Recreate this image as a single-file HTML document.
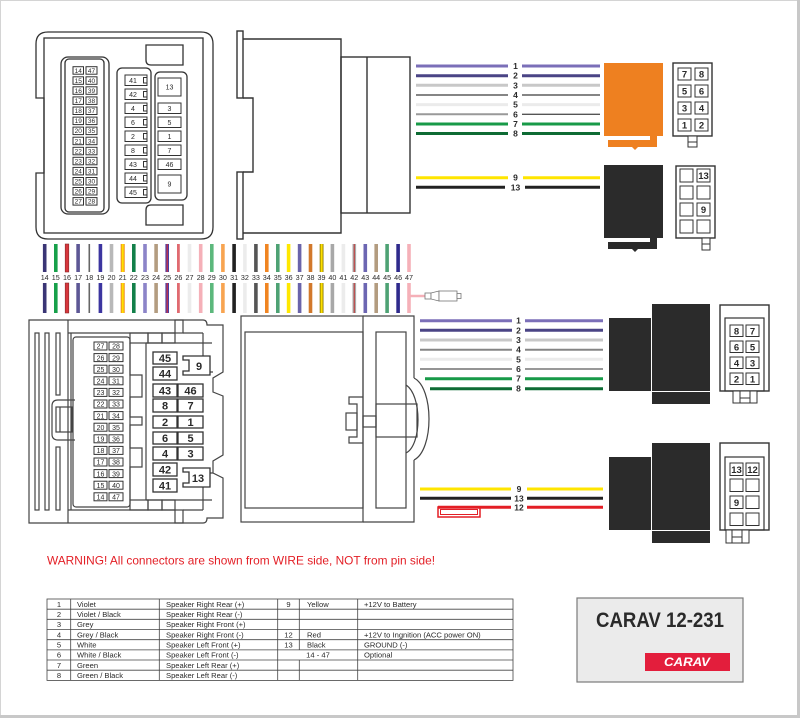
<!DOCTYPE html>
<html><head><meta charset="utf-8"><style>
html,body{margin:0;padding:0;background:#fff;}
svg{display:block;}
text{font-family:"Liberation Sans",Arial,sans-serif;fill:#2a2a2a;}
.s{fill:none;stroke:#333;stroke-width:1.3;}
.p{fill:#fff;stroke:#333;stroke-width:1;}
.t6{font-size:6.5px;text-anchor:middle;}
.t7{font-size:7px;text-anchor:middle;}
.tb{font-size:8.5px;font-weight:bold;text-anchor:middle;}
.big{font-size:11px;font-weight:bold;text-anchor:middle;}
.pd{font-size:9.5px;font-weight:bold;text-anchor:middle;}
.tt{font-size:7.6px;}
</style></head><body>
<svg width="800" height="718" viewBox="0 0 800 718" xmlns="http://www.w3.org/2000/svg">
<rect x="0" y="0" width="800" height="718" fill="#fff"/>
<rect x="0.5" y="0.5" width="797" height="715" fill="none" stroke="#d4d4d4" stroke-width="1"/>
<rect x="797" y="0" width="3" height="718" fill="#c8c8c8"/>
<rect x="0" y="715" width="800" height="3" fill="#c8c8c8"/>

<!-- ============ TOP-LEFT CONNECTOR ============ -->
<g class="s">
<path d="M48,32 H201 Q213,32 213,44 V227 Q213,239 201,239 H48 Q36,239 36,227 V173 H44 V98 H36 V44 Q36,32 48,32 Z"/>
<rect x="44" y="38" width="159" height="195"/>
<rect x="61" y="57" width="48" height="157" rx="7"/>
<rect x="65" y="59" width="39" height="153" rx="4"/>
<rect x="117" y="68" width="34" height="135" rx="5"/>
<rect x="155" y="72" width="32" height="128" rx="5"/>
<path d="M146,45 H183 V65 H151 Q146,65 146,60 Z"/>
<path d="M151,205 H183 V225 H146 V210 Q146,205 151,205 Z"/>
</g>
<g>
<rect class="p" x="73" y="66.7" width="10.5" height="7.5"/><rect class="p" x="86" y="66.7" width="11" height="7.5"/>
<rect class="p" x="73" y="76.8" width="10.5" height="7.5"/><rect class="p" x="86" y="76.8" width="11" height="7.5"/>
<rect class="p" x="73" y="86.8" width="10.5" height="7.5"/><rect class="p" x="86" y="86.8" width="11" height="7.5"/>
<rect class="p" x="73" y="96.9" width="10.5" height="7.5"/><rect class="p" x="86" y="96.9" width="11" height="7.5"/>
<rect class="p" x="73" y="107" width="10.5" height="7.5"/><rect class="p" x="86" y="107" width="11" height="7.5"/>
<rect class="p" x="73" y="117.1" width="10.5" height="7.5"/><rect class="p" x="86" y="117.1" width="11" height="7.5"/>
<rect class="p" x="73" y="127.1" width="10.5" height="7.5"/><rect class="p" x="86" y="127.1" width="11" height="7.5"/>
<rect class="p" x="73" y="137.2" width="10.5" height="7.5"/><rect class="p" x="86" y="137.2" width="11" height="7.5"/>
<rect class="p" x="73" y="147.3" width="10.5" height="7.5"/><rect class="p" x="86" y="147.3" width="11" height="7.5"/>
<rect class="p" x="73" y="157.3" width="10.5" height="7.5"/><rect class="p" x="86" y="157.3" width="11" height="7.5"/>
<rect class="p" x="73" y="167.4" width="10.5" height="7.5"/><rect class="p" x="86" y="167.4" width="11" height="7.5"/>
<rect class="p" x="73" y="177.5" width="10.5" height="7.5"/><rect class="p" x="86" y="177.5" width="11" height="7.5"/>
<rect class="p" x="73" y="187.5" width="10.5" height="7.5"/><rect class="p" x="86" y="187.5" width="11" height="7.5"/>
<rect class="p" x="73" y="197.6" width="10.5" height="7.5"/><rect class="p" x="86" y="197.6" width="11" height="7.5"/>
</g>
<g class="t6">
<text x="78.2" y="72.8">14</text><text x="91.5" y="72.8">47</text>
<text x="78.2" y="82.9">15</text><text x="91.5" y="82.9">40</text>
<text x="78.2" y="92.9">16</text><text x="91.5" y="92.9">39</text>
<text x="78.2" y="103">17</text><text x="91.5" y="103">38</text>
<text x="78.2" y="113.1">18</text><text x="91.5" y="113.1">37</text>
<text x="78.2" y="123.2">19</text><text x="91.5" y="123.2">36</text>
<text x="78.2" y="133.2">20</text><text x="91.5" y="133.2">35</text>
<text x="78.2" y="143.3">21</text><text x="91.5" y="143.3">34</text>
<text x="78.2" y="153.4">22</text><text x="91.5" y="153.4">33</text>
<text x="78.2" y="163.4">23</text><text x="91.5" y="163.4">32</text>
<text x="78.2" y="173.5">24</text><text x="91.5" y="173.5">31</text>
<text x="78.2" y="183.6">25</text><text x="91.5" y="183.6">30</text>
<text x="78.2" y="193.6">26</text><text x="91.5" y="193.6">29</text>
<text x="78.2" y="203.7">27</text><text x="91.5" y="203.7">28</text>
</g>
<!-- middle column pins -->
<g>
<rect class="p" x="125" y="75" width="22" height="10.5"/><path class="s" style="stroke-width:1" d="M147,77.5 H143.5 V83 H147"/>
<rect class="p" x="125" y="89" width="22" height="10.5"/><path class="s" style="stroke-width:1" d="M147,91.5 H143.5 V97 H147"/>
<rect class="p" x="125" y="103" width="22" height="10.5"/><path class="s" style="stroke-width:1" d="M147,105.5 H143.5 V111 H147"/>
<rect class="p" x="125" y="117" width="22" height="10.5"/><path class="s" style="stroke-width:1" d="M147,119.5 H143.5 V125 H147"/>
<rect class="p" x="125" y="131" width="22" height="10.5"/><path class="s" style="stroke-width:1" d="M147,133.5 H143.5 V139 H147"/>
<rect class="p" x="125" y="145" width="22" height="10.5"/><path class="s" style="stroke-width:1" d="M147,147.5 H143.5 V153 H147"/>
<rect class="p" x="125" y="159" width="22" height="10.5"/><path class="s" style="stroke-width:1" d="M147,161.5 H143.5 V167 H147"/>
<rect class="p" x="125" y="173" width="22" height="10.5"/><path class="s" style="stroke-width:1" d="M147,175.5 H143.5 V181 H147"/>
<rect class="p" x="125" y="187" width="22" height="10.5"/><path class="s" style="stroke-width:1" d="M147,189.5 H143.5 V195 H147"/>
</g>
<g class="t7">
<text x="133" y="83">41</text><text x="133" y="97">42</text><text x="133" y="111">4</text>
<text x="133" y="125">6</text><text x="133" y="139">2</text><text x="133" y="153">8</text>
<text x="133" y="167">43</text><text x="133" y="181">44</text><text x="133" y="195">45</text>
</g>
<g>
<rect class="p" x="158" y="78" width="23" height="18"/>
<rect class="p" x="158" y="103" width="23" height="10.5"/>
<rect class="p" x="158" y="117" width="23" height="10.5"/>
<rect class="p" x="158" y="131" width="23" height="10.5"/>
<rect class="p" x="158" y="145" width="23" height="10.5"/>
<rect class="p" x="158" y="159" width="23" height="10.5"/>
<rect class="p" x="158" y="175" width="23" height="18"/>
</g>
<g class="t7">
<text x="169.5" y="89.5">13</text><text x="169.5" y="111">3</text><text x="169.5" y="125">5</text>
<text x="169.5" y="139">1</text><text x="169.5" y="153">7</text><text x="169.5" y="167">46</text>
<text x="169.5" y="186.5">9</text>
</g>

<!-- ============ TOP MIDDLE CONNECTOR ============ -->
<g class="s" style="stroke-width:1.4">
<rect x="237" y="31" width="6" height="67"/>
<rect x="237" y="172" width="6" height="67"/>
<polyline points="243,98 253,98 253,172 243,172"/>
<polyline points="243,39 341,39 341,233 243,233"/>
<rect x="341" y="57" width="69" height="156"/>
<line x1="367" y1="57" x2="367" y2="213"/>
</g>

<!-- ============ TOP WIRES ============ -->
<g stroke-linecap="butt">
<line x1="416" y1="66" x2="508" y2="66" stroke="#7b6fb8" stroke-width="3"/><line x1="522" y1="66" x2="600" y2="66" stroke="#7b6fb8" stroke-width="3"/>
<line x1="416" y1="75.7" x2="508" y2="75.7" stroke="#4a4485" stroke-width="3"/><line x1="522" y1="75.7" x2="600" y2="75.7" stroke="#4a4485" stroke-width="3"/>
<line x1="416" y1="85.3" x2="508" y2="85.3" stroke="#c8c8c8" stroke-width="3"/><line x1="522" y1="85.3" x2="600" y2="85.3" stroke="#c8c8c8" stroke-width="3"/>
<line x1="416" y1="95" x2="508" y2="95" stroke="#858585" stroke-width="2"/><line x1="522" y1="95" x2="600" y2="95" stroke="#858585" stroke-width="2"/>
<line x1="416" y1="104.6" x2="508" y2="104.6" stroke="#ebebeb" stroke-width="3"/><line x1="522" y1="104.6" x2="600" y2="104.6" stroke="#ebebeb" stroke-width="3"/>
<line x1="416" y1="114.3" x2="508" y2="114.3" stroke="#999" stroke-width="2"/><line x1="522" y1="114.3" x2="600" y2="114.3" stroke="#555" stroke-width="1.3"/>
<line x1="416" y1="124" x2="508" y2="124" stroke="#189a48" stroke-width="3"/><line x1="522" y1="124" x2="600" y2="124" stroke="#189a48" stroke-width="3"/>
<line x1="416" y1="133.5" x2="508" y2="133.5" stroke="#0e6b34" stroke-width="3"/><line x1="522" y1="133.5" x2="600" y2="133.5" stroke="#0e6b34" stroke-width="3"/>
<line x1="416" y1="177.7" x2="508" y2="177.7" stroke="#ffe500" stroke-width="3"/><line x1="523" y1="177.7" x2="600" y2="177.7" stroke="#ffe500" stroke-width="3"/>
<line x1="416" y1="187.3" x2="505" y2="187.3" stroke="#222" stroke-width="3"/><line x1="525" y1="187.3" x2="600" y2="187.3" stroke="#222" stroke-width="3"/>
</g>
<g class="tb">
<text x="515.5" y="69">1</text><text x="515.5" y="78.7">2</text><text x="515.5" y="88.3">3</text>
<text x="515.5" y="98">4</text><text x="515.5" y="107.6">5</text><text x="515.5" y="117.3">6</text>
<text x="515.5" y="127">7</text><text x="515.5" y="136.5">8</text>
<text x="515.5" y="180.7">9</text><text x="515.5" y="190.5">13</text>
</g>

<!-- orange connector -->
<rect x="604" y="63" width="59" height="73" fill="#ee8020"/>
<path d="M608,140 H650 V136 H657 V147 H638 L635,150 L632,147 H608 Z" fill="#ee8020"/>
<!-- black connector top -->
<rect x="604" y="165" width="59" height="73" fill="#2b2b2b"/>
<path d="M608,242 H650 V238 H657 V249 H638 L635,252 L632,249 H608 Z" fill="#2b2b2b"/>

<!-- orange pin diagram -->
<g>
<rect x="673" y="63" width="39" height="73" fill="#fff" stroke="#333" stroke-width="1.4"/>
<rect class="p" x="678" y="68" width="13" height="12"/><rect class="p" x="695" y="68" width="13" height="12"/>
<rect class="p" x="678" y="85" width="13" height="12"/><rect class="p" x="695" y="85" width="13" height="12"/>
<rect class="p" x="678" y="102" width="13" height="12"/><rect class="p" x="695" y="102" width="13" height="12"/>
<rect class="p" x="678" y="119" width="13" height="12"/><rect class="p" x="695" y="119" width="13" height="12"/>
<rect class="p" x="688" y="136" width="9" height="11"/><line x1="688" y1="142" x2="697" y2="142" stroke="#333"/>
</g>
<g class="pd">
<text x="684.5" y="77.5">7</text><text x="701.5" y="77.5">8</text>
<text x="684.5" y="94.5">5</text><text x="701.5" y="94.5">6</text>
<text x="684.5" y="111.5">3</text><text x="701.5" y="111.5">4</text>
<text x="684.5" y="128.5">1</text><text x="701.5" y="128.5">2</text>
</g>
<!-- black top pin diagram -->
<g>
<rect x="676" y="166" width="39" height="72" fill="#fff" stroke="#333" stroke-width="1.4"/>
<rect class="p" x="680" y="169" width="13" height="13"/><rect class="p" x="697" y="169" width="13" height="13"/>
<rect class="p" x="680" y="186" width="13" height="13"/><rect class="p" x="697" y="186" width="13" height="13"/>
<rect class="p" x="680" y="203" width="13" height="13"/><rect class="p" x="697" y="203" width="13" height="13"/>
<rect class="p" x="680" y="220" width="13" height="13"/><rect class="p" x="697" y="220" width="13" height="13"/>
<rect class="p" x="702" y="238" width="8" height="12"/><line x1="702" y1="244" x2="710" y2="244" stroke="#333"/>
</g>
<g class="pd"><text x="703.5" y="179">13</text><text x="703.5" y="213">9</text></g>

<!-- ============ WIRE ROW 14-47 ============ -->
<g>
<rect x="42.9" y="244" width="3.6" height="28" fill="#3a3575"/><rect x="42.9" y="283" width="3.6" height="30" fill="#3a3575"/>
<rect x="54" y="244" width="3.6" height="28" fill="#17a04a"/><rect x="54" y="283" width="3.6" height="30" fill="#17a04a"/>
<rect x="65.2" y="244" width="3.6" height="28" fill="#d7373d" stroke="#8a2a2a" stroke-width="0.6"/><rect x="65.2" y="283" width="3.6" height="30" fill="#d7373d" stroke="#8a2a2a" stroke-width="0.6"/>
<rect x="76.3" y="244" width="3.6" height="28" fill="#5d5795"/><rect x="76.3" y="283" width="3.6" height="30" fill="#5d5795"/>
<rect x="88.5" y="244" width="1.6" height="28" fill="#666"/><rect x="88.5" y="283" width="1.6" height="30" fill="#666"/>
<rect x="98.6" y="244" width="3.6" height="28" fill="#3c35a0"/><rect x="98.6" y="283" width="3.6" height="30" fill="#3c35a0"/>
<rect x="109.7" y="244" width="3.6" height="28" fill="#b8b8b8"/><rect x="109.7" y="283" width="3.6" height="30" fill="#b8b8b8"/>
<rect x="120.7" y="244" width="4" height="28" fill="#f08a20"/><rect x="121.7" y="244" width="2" height="28" fill="#ffe000"/>
<rect x="120.7" y="283" width="4" height="30" fill="#f08a20"/><rect x="121.7" y="283" width="2" height="30" fill="#ffe000"/>
<rect x="132" y="244" width="3.6" height="28" fill="#13804a"/><rect x="132" y="283" width="3.6" height="30" fill="#13804a"/>
<rect x="143.2" y="244" width="3.6" height="28" fill="#8c84c8"/><rect x="143.2" y="283" width="3.6" height="30" fill="#8c84c8"/>
<rect x="154.3" y="244" width="3.6" height="28" fill="#b39c80"/><rect x="154.3" y="283" width="3.6" height="30" fill="#b39c80"/>
<rect x="165.4" y="244" width="3.6" height="28" fill="#4a3fa5"/><rect x="166.6" y="244" width="1.2" height="28" fill="#d03040"/>
<rect x="165.4" y="283" width="3.6" height="30" fill="#4a3fa5"/><rect x="166.6" y="283" width="1.2" height="30" fill="#d03040"/>
<rect x="177" y="244" width="2.8" height="28" fill="#e06a70"/><rect x="177" y="283" width="2.8" height="30" fill="#e06a70"/>
<rect x="187.7" y="244" width="3.6" height="28" fill="#ececec"/><rect x="187.7" y="283" width="3.6" height="30" fill="#ececec"/>
<rect x="198.9" y="244" width="3.6" height="28" fill="#f5b0b8"/><rect x="198.9" y="283" width="3.6" height="30" fill="#f5b0b8"/>
<rect x="210" y="244" width="3.6" height="28" fill="#5cb87c"/><rect x="210" y="283" width="3.6" height="30" fill="#5cb87c"/>
<rect x="221.1" y="244" width="3.6" height="28" fill="#f8a450"/><rect x="221.1" y="283" width="3.6" height="30" fill="#f8a450"/>
<rect x="232.3" y="244" width="3.6" height="28" fill="#222"/><rect x="232.3" y="283" width="3.6" height="30" fill="#222"/>
<rect x="243.1" y="244" width="3.6" height="28" fill="#ececec"/><rect x="243.1" y="283" width="3.6" height="30" fill="#ececec"/>
<rect x="254.1" y="244" width="3.6" height="28" fill="#555"/><rect x="254.1" y="283" width="3.6" height="30" fill="#555"/>
<rect x="265" y="244" width="3.6" height="28" fill="#f08522"/><rect x="265" y="283" width="3.6" height="30" fill="#f08522"/>
<rect x="276" y="244" width="3.6" height="28" fill="#4ea274"/><rect x="276" y="283" width="3.6" height="30" fill="#4ea274"/>
<rect x="286.8" y="244" width="3.6" height="28" fill="#ffe800"/><rect x="286.8" y="283" width="3.6" height="30" fill="#ffe800"/>
<rect x="297.8" y="244" width="3.6" height="28" fill="#6a64aa"/><rect x="297.8" y="283" width="3.6" height="30" fill="#6a64aa"/>
<rect x="308.7" y="244" width="3.6" height="28" fill="#d2792b"/><rect x="308.7" y="283" width="3.6" height="30" fill="#d2792b"/>
<rect x="319.7" y="244" width="3.8" height="28" fill="#8a7a00"/><rect x="320.6" y="244" width="2" height="28" fill="#ffe000"/>
<rect x="319.7" y="283" width="3.8" height="30" fill="#8a7a00"/><rect x="320.6" y="283" width="2" height="30" fill="#ffe000"/>
<rect x="330.6" y="244" width="3.6" height="28" fill="#a8a8a8"/><rect x="330.6" y="283" width="3.6" height="30" fill="#a8a8a8"/>
<rect x="341.6" y="244" width="3.6" height="28" fill="#ececec"/><rect x="341.6" y="283" width="3.6" height="30" fill="#ececec"/>
<rect x="352.5" y="244" width="3.6" height="28" fill="#aaa"/><rect x="353.7" y="244" width="1.2" height="28" fill="#c04848"/>
<rect x="352.5" y="283" width="3.6" height="30" fill="#aaa"/><rect x="353.7" y="283" width="1.2" height="30" fill="#c04848"/>
<rect x="363.5" y="244" width="3.6" height="28" fill="#6c66b2"/><rect x="363.5" y="283" width="3.6" height="30" fill="#6c66b2"/>
<rect x="374.4" y="244" width="3.6" height="28" fill="#b39c80"/><rect x="374.4" y="283" width="3.6" height="30" fill="#b39c80"/>
<rect x="385.3" y="244" width="3.6" height="28" fill="#4ea274"/><rect x="385.3" y="283" width="3.6" height="30" fill="#4ea274"/>
<rect x="396.3" y="244" width="3.6" height="28" fill="#2f2a8c"/><rect x="396.3" y="283" width="3.6" height="30" fill="#2f2a8c"/>
<rect x="407.2" y="244" width="3.6" height="28" fill="#f5b0b8"/><rect x="407.2" y="283" width="3.6" height="30" fill="#f5b0b8"/>
<line x1="409" y1="296" x2="425" y2="296" stroke="#f5b0b8" stroke-width="2.5"/>
<g fill="#fff" stroke="#777" stroke-width="0.8">
<rect x="425" y="293" width="6" height="6"/>
<path d="M431,293 L439,291 V301 L431,299 Z"/>
<rect x="439" y="291" width="18" height="10"/>
<rect x="457" y="293.5" width="4" height="5"/>
</g>
</g>
<g class="t7" style="font-size:7.2px">
<text x="44.7" y="280">14</text><text x="55.8" y="280">15</text><text x="67" y="280">16</text><text x="78.1" y="280">17</text>
<text x="89.3" y="280">18</text><text x="100.4" y="280">19</text><text x="111.5" y="280">20</text><text x="122.7" y="280">21</text>
<text x="133.8" y="280">22</text><text x="145" y="280">23</text><text x="156.1" y="280">24</text><text x="167.2" y="280">25</text>
<text x="178.4" y="280">26</text><text x="189.5" y="280">27</text><text x="200.7" y="280">28</text><text x="211.8" y="280">29</text>
<text x="222.9" y="280">30</text><text x="234.1" y="280">31</text><text x="244.9" y="280">32</text><text x="255.9" y="280">33</text>
<text x="266.8" y="280">34</text><text x="277.8" y="280">35</text><text x="288.6" y="280">36</text><text x="299.6" y="280">37</text>
<text x="310.5" y="280">38</text><text x="321.5" y="280">39</text><text x="332.4" y="280">40</text><text x="343.4" y="280">41</text>
<text x="354.3" y="280">42</text><text x="365.3" y="280">43</text><text x="376.2" y="280">44</text><text x="387.1" y="280">45</text>
<text x="398.1" y="280">46</text><text x="409" y="280">47</text>
</g>

<!-- ============ BOTTOM-LEFT CONNECTOR ============ -->
<g class="s" style="stroke:#444;stroke-width:1.2">
<path d="M68,320 H29 V523 H68"/>
<line x1="68" y1="320" x2="68" y2="523"/>
<line x1="71" y1="333" x2="71" y2="510"/>
<line x1="68" y1="320" x2="203" y2="320"/>
<line x1="68" y1="523" x2="203" y2="523"/>
<line x1="68" y1="333" x2="175" y2="333"/>
<line x1="68" y1="510" x2="175" y2="510"/>
<rect x="175" y="320" width="8" height="13"/>
<rect x="175" y="510" width="8" height="13"/>
<line x1="183" y1="333" x2="203" y2="333"/>
<line x1="183" y1="510" x2="203" y2="510"/>
<path d="M203,320 Q207,320 207,325 H223 V372 L213,378 V392 L223,396 V455 L213,461 V473 L223,478 V518 H207 Q207,523 203,523"/>
<path d="M203,333 V343 H212"/>
<path d="M203,510 V500 H212"/>
<rect x="35" y="333" width="4" height="177"/>
<rect x="45" y="333" width="4" height="177"/>
<rect x="56" y="333" width="4" height="62"/>
<rect x="56" y="447" width="4" height="63"/>
<path d="M75,400 H58 Q52,400 52,406 V434 Q52,440 58,440 H75"/>
<rect x="56" y="407" width="16" height="25"/>
<line x1="60" y1="407" x2="60" y2="432"/>
<rect x="73" y="337" width="57" height="170" rx="3"/>
<rect x="130" y="333" width="18" height="10"/>
<rect x="148" y="333" width="14" height="10"/>
<rect x="162" y="333" width="13" height="10"/>
<rect x="130" y="500" width="18" height="10"/>
<rect x="148" y="500" width="14" height="10"/>
<rect x="162" y="500" width="13" height="10"/>
<polyline points="130,343 130,375 142,375 142,397 130,397 130,417 142,417 142,425 130,425 130,448 142,448 142,467 130,467 130,500"/>
<polyline points="146,343 146,500"/>
<line x1="146" y1="343" x2="203" y2="343"/>
<line x1="146" y1="500" x2="203" y2="500"/>
<path d="M203,343 V372 H213"/>
<path d="M203,500 V473 H213"/>
</g>
<g>
<rect class="p" x="94" y="342" width="13" height="8"/><rect class="p" x="109" y="342" width="14" height="8"/>
<rect class="p" x="94" y="353.6" width="13" height="8"/><rect class="p" x="109" y="353.6" width="14" height="8"/>
<rect class="p" x="94" y="365.2" width="13" height="8"/><rect class="p" x="109" y="365.2" width="14" height="8"/>
<rect class="p" x="94" y="376.8" width="13" height="8"/><rect class="p" x="109" y="376.8" width="14" height="8"/>
<rect class="p" x="94" y="388.4" width="13" height="8"/><rect class="p" x="109" y="388.4" width="14" height="8"/>
<rect class="p" x="94" y="400" width="13" height="8"/><rect class="p" x="109" y="400" width="14" height="8"/>
<rect class="p" x="94" y="411.6" width="13" height="8"/><rect class="p" x="109" y="411.6" width="14" height="8"/>
<rect class="p" x="94" y="423.2" width="13" height="8"/><rect class="p" x="109" y="423.2" width="14" height="8"/>
<rect class="p" x="94" y="434.8" width="13" height="8"/><rect class="p" x="109" y="434.8" width="14" height="8"/>
<rect class="p" x="94" y="446.4" width="13" height="8"/><rect class="p" x="109" y="446.4" width="14" height="8"/>
<rect class="p" x="94" y="458" width="13" height="8"/><rect class="p" x="109" y="458" width="14" height="8"/>
<rect class="p" x="94" y="469.6" width="13" height="8"/><rect class="p" x="109" y="469.6" width="14" height="8"/>
<rect class="p" x="94" y="481.2" width="13" height="8"/><rect class="p" x="109" y="481.2" width="14" height="8"/>
<rect class="p" x="94" y="492.8" width="13" height="8"/><rect class="p" x="109" y="492.8" width="14" height="8"/>
</g>
<g class="t6" style="font-size:7px">
<text x="100.5" y="348.7">27</text><text x="116" y="348.7">28</text>
<text x="100.5" y="360.3">26</text><text x="116" y="360.3">29</text>
<text x="100.5" y="371.9">25</text><text x="116" y="371.9">30</text>
<text x="100.5" y="383.5">24</text><text x="116" y="383.5">31</text>
<text x="100.5" y="395.1">23</text><text x="116" y="395.1">32</text>
<text x="100.5" y="406.7">22</text><text x="116" y="406.7">33</text>
<text x="100.5" y="418.3">21</text><text x="116" y="418.3">34</text>
<text x="100.5" y="429.9">20</text><text x="116" y="429.9">35</text>
<text x="100.5" y="441.5">19</text><text x="116" y="441.5">36</text>
<text x="100.5" y="453.1">18</text><text x="116" y="453.1">37</text>
<text x="100.5" y="464.7">17</text><text x="116" y="464.7">38</text>
<text x="100.5" y="476.3">16</text><text x="116" y="476.3">39</text>
<text x="100.5" y="487.9">15</text><text x="116" y="487.9">40</text>
<text x="100.5" y="499.5">14</text><text x="116" y="499.5">47</text>
</g>
<g>
<rect class="p" style="stroke-width:1.3" x="153" y="352" width="24" height="12"/>
<rect class="p" style="stroke-width:1.3" x="153" y="367" width="24" height="13"/>
<rect class="p" style="stroke-width:1.3" x="153" y="384" width="24" height="13"/><rect class="p" style="stroke-width:1.3" x="178" y="384" width="25" height="13"/>
<rect class="p" style="stroke-width:1.3" x="153" y="399" width="24" height="13"/><rect class="p" style="stroke-width:1.3" x="178" y="399" width="25" height="13"/>
<rect class="p" style="stroke-width:1.3" x="153" y="416" width="24" height="12"/><rect class="p" style="stroke-width:1.3" x="178" y="416" width="25" height="12"/>
<rect class="p" style="stroke-width:1.3" x="153" y="432" width="24" height="12"/><rect class="p" style="stroke-width:1.3" x="178" y="432" width="25" height="12"/>
<rect class="p" style="stroke-width:1.3" x="153" y="447" width="24" height="13"/><rect class="p" style="stroke-width:1.3" x="178" y="447" width="25" height="13"/>
<rect class="p" style="stroke-width:1.3" x="153" y="463" width="24" height="13"/>
<rect class="p" style="stroke-width:1.3" x="153" y="479" width="24" height="13"/>
<path class="p" style="stroke-width:1.3" d="M183,356 H210 V375 H183 V371 H189 V360 H183 Z"/>
<path class="p" style="stroke-width:1.3" d="M183,468 H210 V487 H183 V483 H189 V472 H183 Z"/>
</g>
<g class="big">
<text x="165" y="362">45</text><text x="165" y="377.5">44</text>
<text x="165" y="394.5">43</text><text x="190.5" y="394.5">46</text>
<text x="165" y="409.5">8</text><text x="190.5" y="409.5">7</text>
<text x="165" y="426">2</text><text x="190.5" y="426">1</text>
<text x="165" y="442">6</text><text x="190.5" y="442">5</text>
<text x="165" y="457.5">4</text><text x="190.5" y="457.5">3</text>
<text x="165" y="473.5">42</text><text x="165" y="489.5">41</text>
<text x="199" y="370">9</text><text x="198" y="482">13</text>
</g>

<!-- ============ BOTTOM MIDDLE CONNECTOR ============ -->
<g class="s" style="stroke:#444;stroke-width:1.2">
<rect x="241" y="316" width="122" height="206"/>
<rect x="245" y="332" width="118" height="176"/>
<path d="M363,316 H414 V378"/>
<path d="M414,460 V522 H363"/>
<path d="M414,378 C434,388 434,450 414,460"/>
<path d="M406,385 C422,395 422,445 406,453"/>
<rect x="376" y="332" width="30" height="176"/>
<rect x="376" y="404" width="41" height="33"/>
<rect x="363" y="416" width="13" height="11"/>
<polyline points="363,397 349,397 349,404 357,404 357,437 349,437 349,443 363,443"/>
<rect x="346" y="413" width="11" height="17"/>
</g>

<!-- ============ BOTTOM RIGHT WIRES ============ -->
<g>
<line x1="420" y1="320.7" x2="512" y2="320.7" stroke="#7b6fb8" stroke-width="3"/><line x1="525" y1="320.7" x2="603" y2="320.7" stroke="#7b6fb8" stroke-width="3"/>
<line x1="420" y1="330.3" x2="512" y2="330.3" stroke="#4a4485" stroke-width="3"/><line x1="525" y1="330.3" x2="603" y2="330.3" stroke="#4a4485" stroke-width="3"/>
<line x1="420" y1="340" x2="512" y2="340" stroke="#c8c8c8" stroke-width="3"/><line x1="525" y1="340" x2="603" y2="340" stroke="#c8c8c8" stroke-width="3"/>
<line x1="420" y1="349.7" x2="512" y2="349.7" stroke="#858585" stroke-width="2"/><line x1="525" y1="349.7" x2="603" y2="349.7" stroke="#858585" stroke-width="2"/>
<line x1="420" y1="359.3" x2="512" y2="359.3" stroke="#ebebeb" stroke-width="3"/><line x1="525" y1="359.3" x2="603" y2="359.3" stroke="#ebebeb" stroke-width="3"/>
<line x1="420" y1="369" x2="512" y2="369" stroke="#555" stroke-width="1.3"/><line x1="525" y1="369" x2="603" y2="369" stroke="#999" stroke-width="2"/>
<line x1="425" y1="378.7" x2="512" y2="378.7" stroke="#189a48" stroke-width="3"/><line x1="525" y1="378.7" x2="603" y2="378.7" stroke="#189a48" stroke-width="3"/>
<line x1="430" y1="388.7" x2="512" y2="388.7" stroke="#0e6b34" stroke-width="3"/><line x1="525" y1="388.7" x2="603" y2="388.7" stroke="#0e6b34" stroke-width="3"/>
<line x1="420" y1="489" x2="511" y2="489" stroke="#ffe500" stroke-width="3"/><line x1="527" y1="489" x2="603" y2="489" stroke="#ffe500" stroke-width="3"/>
<line x1="420" y1="498.3" x2="511" y2="498.3" stroke="#222" stroke-width="3"/><line x1="527" y1="498.3" x2="603" y2="498.3" stroke="#222" stroke-width="3"/>
<line x1="438" y1="507.3" x2="511" y2="507.3" stroke="#e31e25" stroke-width="3"/><line x1="527" y1="507.3" x2="603" y2="507.3" stroke="#e31e25" stroke-width="3"/>
<rect x="438" y="507" width="42" height="10" fill="none" stroke="#e31e25" stroke-width="1.5"/>
<rect x="440.5" y="509.5" width="37" height="5" fill="none" stroke="#e31e25" stroke-width="1"/>
</g>
<g class="tb">
<text x="518.5" y="323.7">1</text><text x="518.5" y="333.3">2</text><text x="518.5" y="343">3</text>
<text x="518.5" y="352.7">4</text><text x="518.5" y="362.3">5</text><text x="518.5" y="372">6</text>
<text x="518.5" y="381.7">7</text><text x="518.5" y="391.7">8</text>
<text x="519" y="492">9</text><text x="519" y="501.3">13</text><text x="519" y="510.3">12</text>
</g>

<!-- bottom right black connectors -->
<rect x="609" y="318" width="42" height="73" fill="#2b2b2b"/>
<rect x="652" y="304" width="58" height="87" fill="#2b2b2b"/>
<rect x="652" y="392" width="58" height="12" fill="#2b2b2b"/>
<rect x="609" y="457" width="42" height="73" fill="#2b2b2b"/>
<rect x="652" y="443" width="58" height="87" fill="#2b2b2b"/>
<rect x="652" y="531" width="58" height="12" fill="#2b2b2b"/>

<!-- pin diagram 8 -->
<g>
<rect x="720" y="305" width="49" height="86" fill="#fff" stroke="#333" stroke-width="1.4"/>
<rect x="725" y="318" width="39" height="73" fill="none" stroke="#333" stroke-width="1.2"/>
<rect class="p" x="730" y="325" width="13" height="11.5"/><rect class="p" x="746" y="325" width="13" height="11.5"/>
<rect class="p" x="730" y="341" width="13" height="11.5"/><rect class="p" x="746" y="341" width="13" height="11.5"/>
<rect class="p" x="730" y="357" width="13" height="11.5"/><rect class="p" x="746" y="357" width="13" height="11.5"/>
<rect class="p" x="730" y="373" width="13" height="11.5"/><rect class="p" x="746" y="373" width="13" height="11.5"/>
<rect class="p" x="733" y="391" width="24" height="12"/><rect class="p" x="740" y="391" width="10" height="12"/>
<line x1="740" y1="398" x2="750" y2="398" stroke="#333"/>
</g>
<g class="pd">
<text x="736.5" y="334.3">8</text><text x="752.5" y="334.3">7</text>
<text x="736.5" y="350.3">6</text><text x="752.5" y="350.3">5</text>
<text x="736.5" y="366.3">4</text><text x="752.5" y="366.3">3</text>
<text x="736.5" y="382.3">2</text><text x="752.5" y="382.3">1</text>
</g>
<!-- pin diagram power -->
<g>
<rect x="720" y="443" width="49" height="87" fill="#fff" stroke="#333" stroke-width="1.4"/>
<rect x="725" y="457" width="39" height="73" fill="none" stroke="#333" stroke-width="1.2"/>
<rect class="p" x="730" y="463" width="13" height="12.5"/><rect class="p" x="746" y="463" width="13" height="12.5"/>
<rect class="p" x="730" y="479" width="13" height="12.5"/><rect class="p" x="746" y="479" width="13" height="12.5"/>
<rect class="p" x="730" y="496" width="13" height="12.5"/><rect class="p" x="746" y="496" width="13" height="12.5"/>
<rect class="p" x="730" y="513" width="13" height="12.5"/><rect class="p" x="746" y="513" width="13" height="12.5"/>
<rect class="p" x="726" y="530" width="23" height="13"/><rect class="p" x="732" y="530" width="10" height="13"/>
<line x1="732" y1="537" x2="742" y2="537" stroke="#333"/>
</g>
<g class="pd">
<text x="736.5" y="473">13</text><text x="752.5" y="473">12</text>
<text x="736.5" y="506">9</text>
</g>

<!-- warning -->
<text x="47" y="564.5" style="font-size:12px;fill:#e31e25;" textLength="388" lengthAdjust="spacingAndGlyphs">WARNING! All connectors are shown from WIRE side, NOT from pin side!</text>

<!-- ============ TABLE ============ -->
<g stroke="#444" stroke-width="0.8" fill="none">
<rect x="47" y="599" width="466" height="81.4"/>
<line x1="47" y1="609.2" x2="513" y2="609.2"/>
<line x1="47" y1="619.3" x2="513" y2="619.3"/>
<line x1="47" y1="629.5" x2="513" y2="629.5"/>
<line x1="47" y1="639.7" x2="513" y2="639.7"/>
<line x1="47" y1="649.9" x2="513" y2="649.9"/>
<line x1="47" y1="660" x2="513" y2="660"/>
<line x1="47" y1="670.2" x2="513" y2="670.2"/>
<line x1="70.7" y1="599" x2="70.7" y2="680.4"/>
<line x1="159.3" y1="599" x2="159.3" y2="680.4"/>
<line x1="277.7" y1="599" x2="277.7" y2="680.4"/>
<line x1="299.3" y1="599" x2="299.3" y2="649.9"/>
<line x1="299.3" y1="660" x2="299.3" y2="680.4"/>
<line x1="357.7" y1="599" x2="357.7" y2="680.4"/>
</g>
<g class="tt">
<text x="59" y="606.9" text-anchor="middle">1</text><text x="77" y="606.9">Violet</text><text x="166" y="606.9">Speaker Right Rear (+)</text><text x="288.5" y="606.9" text-anchor="middle">9</text><text x="307" y="606.9">Yellow</text><text x="364" y="606.9">+12V to Battery</text>
<text x="59" y="617" text-anchor="middle">2</text><text x="77" y="617">Violet / Black</text><text x="166" y="617">Speaker Right Rear (-)</text>
<text x="59" y="627.2" text-anchor="middle">3</text><text x="77" y="627.2">Grey</text><text x="166" y="627.2">Speaker Right Front (+)</text>
<text x="59" y="637.4" text-anchor="middle">4</text><text x="77" y="637.4">Grey / Black</text><text x="166" y="637.4">Speaker Right Front (-)</text><text x="288.5" y="637.4" text-anchor="middle">12</text><text x="307" y="637.4">Red</text><text x="364" y="637.4">+12V to Ingnition (ACC power ON)</text>
<text x="59" y="647.6" text-anchor="middle">5</text><text x="77" y="647.6">White</text><text x="166" y="647.6">Speaker Left Front (+)</text><text x="288.5" y="647.6" text-anchor="middle">13</text><text x="307" y="647.6">Black</text><text x="364" y="647.6">GROUND (-)</text>
<text x="59" y="657.7" text-anchor="middle">6</text><text x="77" y="657.7">White / Black</text><text x="166" y="657.7">Speaker Left Front (-)</text><text x="318" y="657.7" text-anchor="middle">14 - 47</text><text x="364" y="657.7">Optional</text>
<text x="59" y="667.9" text-anchor="middle">7</text><text x="77" y="667.9">Green</text><text x="166" y="667.9">Speaker Left Rear (+)</text>
<text x="59" y="678.1" text-anchor="middle">8</text><text x="77" y="678.1">Green / Black</text><text x="166" y="678.1">Speaker Left Rear (-)</text>
</g>

<!-- ============ CARAV BOX ============ -->
<rect x="577" y="598" width="166" height="84" fill="#ebebeb" stroke="#7a7a7a" stroke-width="1.2"/>
<text x="596" y="627" style="font-size:21px;font-weight:bold;fill:#2a2a2a" textLength="128" lengthAdjust="spacingAndGlyphs">CARAV 12-231</text>
<rect x="645" y="653" width="85" height="18" fill="#e31e3c"/>
<text x="687" y="666" style="font-size:11.5px;font-weight:bold;fill:#fff;font-style:italic" text-anchor="middle" textLength="46" lengthAdjust="spacingAndGlyphs">CARAV</text>
</svg>
</body></html>
